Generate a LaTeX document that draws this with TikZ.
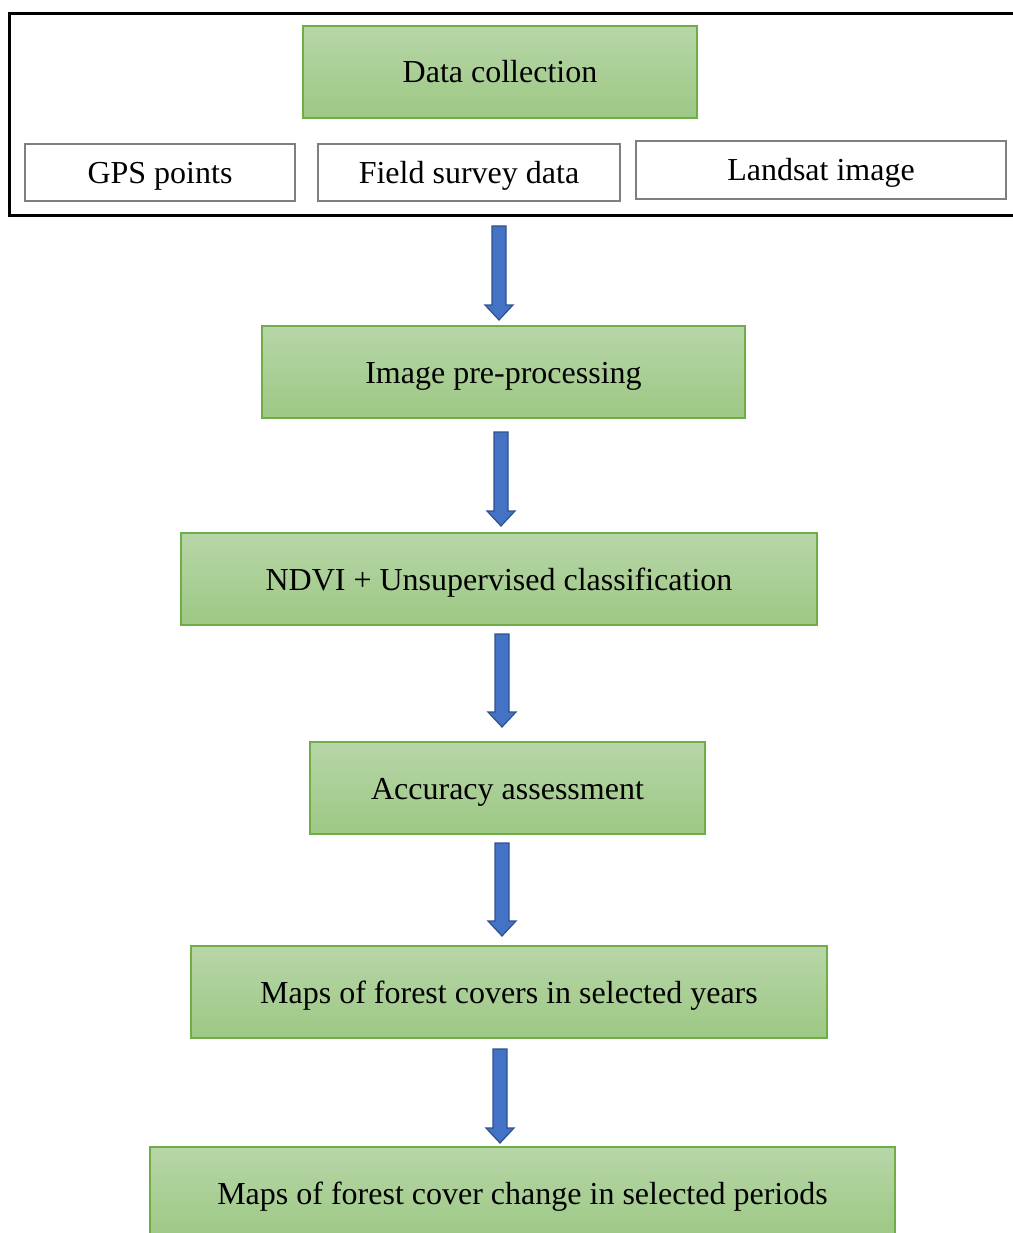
\documentclass[tikz,border=0pt]{standalone}
\usepackage{fontspec}
\setmainfont{Liberation Serif}
\usetikzlibrary{calc}
\definecolor{gtop}{RGB}{183,214,168}
\definecolor{gbot}{RGB}{157,200,132}
\definecolor{gline}{RGB}{112,173,71}
\definecolor{abody}{RGB}{68,114,196}
\definecolor{aline}{RGB}{47,82,143}
\definecolor{boxgray}{RGB}{127,127,127}
\tikzset{
  greenbox/.style={rectangle, draw=gline, line width=1.2pt, top color=gtop, bottom color=gbot,
    inner sep=0pt, font=\fontsize{32}{38}\selectfont, text height=22pt, text depth=0pt},
  whitebox/.style={rectangle, draw=boxgray, line width=1.3pt, fill=white,
    inner sep=0pt, font=\fontsize{32}{38}\selectfont, text height=22pt, text depth=0pt},
  barrow/.style={fill=abody, draw=aline, line width=1.2pt, line join=miter}
}
\newcommand\blockarrow[2]{%
  \draw[barrow] let \p1=(#1), \p2=(#2) in
    (\x1-7pt,\y1) -- (\x1+7pt,\y1) -- (\x1+7pt,\y2+15pt) -- (\x1+14pt,\y2+15pt)
    -- (\x1,\y2) -- (\x1-14pt,\y2+15pt) -- (\x1-7pt,\y2+15pt) -- cycle;}
\begin{document}
\begin{tikzpicture}[x=1pt,y=-1pt]
\useasboundingbox (0,0) rectangle (1012,1233);
% outer frame
\node[draw=black, line width=3pt, inner sep=0pt, minimum width=1012pt, minimum height=202pt, anchor=north west] (frame) at (8,12) {};
% top boxes
\node[greenbox, minimum width=394pt, minimum height=92pt] (dc) at (500,72) {Data collection};
\node[whitebox, minimum width=270pt, minimum height=57pt] (gps) at (160,172.5) {GPS points};
\node[whitebox, minimum width=302pt, minimum height=57pt] (fsd) at (469,172.5) {Field survey data};
\node[whitebox, minimum width=370pt, minimum height=58pt] (lsi) at (821,170) {Landsat image};
% main boxes
\node[greenbox, minimum width=483pt, minimum height=92pt] (pre) at (503.5,372) {Image pre-processing};
\node[greenbox, minimum width=636pt, minimum height=92pt] (ndvi) at (499,579) {NDVI + Unsupervised classification};
\node[greenbox, minimum width=395pt, minimum height=92pt] (acc) at (507.5,788) {Accuracy assessment};
\node[greenbox, minimum width=636pt, minimum height=92pt] (maps) at (509,992) {Maps of forest covers in selected years};
\node[greenbox, minimum width=745pt, minimum height=92pt] (chg) at (522.5,1193) {Maps of forest cover change in selected periods};
% arrow end points
\coordinate (a1s) at (499,226); \coordinate (a1e) at (499,320);
\coordinate (a2s) at (501,432); \coordinate (a2e) at (501,526);
\coordinate (a3s) at (502,634); \coordinate (a3e) at (502,727);
\coordinate (a4s) at (502,843); \coordinate (a4e) at (502,936);
\coordinate (a5s) at (500,1049); \coordinate (a5e) at (500,1143);
\blockarrow{a1s}{a1e}
\blockarrow{a2s}{a2e}
\blockarrow{a3s}{a3e}
\blockarrow{a4s}{a4e}
\blockarrow{a5s}{a5e}
\end{tikzpicture}
\end{document}
